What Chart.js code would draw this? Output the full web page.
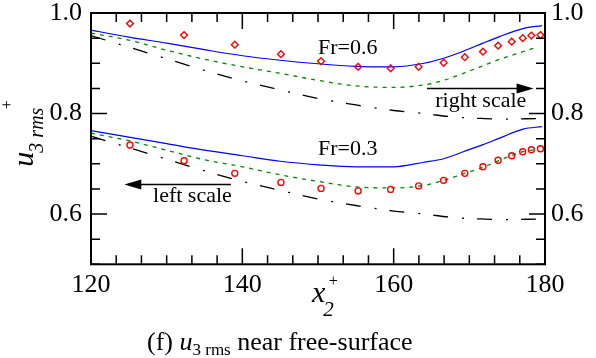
<!DOCTYPE html>
<html>
<head>
<meta charset="utf-8">
<script src="https://cdn.jsdelivr.net/npm/chart.js@4.4.1/dist/chart.umd.min.js"></script>
<style>
  html, body { margin: 0; padding: 0; background: #fff; }
  #wrap { width: 596px; height: 358px; }
</style>
</head>
<body>
<div id="wrap"><canvas id="chart" width="596" height="358"></canvas></div>
<script>
// axis ticks
const xTicks = [120, 140, 160, 180];
const yTicks = [0.6, 0.8, 1];
const xMinorStep = 20 / 6;
const yMinorStep = 0.05;

// DNS symbols (diamonds: Fr=0.6, circles: Fr=0.3)
const dnsX = [125.15, 132.3, 139.0, 145.1, 150.4, 155.3, 159.6, 163.3, 166.6, 169.4, 171.8, 173.8, 175.6, 177.05, 178.2, 179.4];
const dns06 = [0.979, 0.956, 0.937, 0.918, 0.904, 0.893, 0.890, 0.893, 0.901, 0.912, 0.923, 0.935, 0.943, 0.950, 0.955, 0.956];
const dns03 = [0.7375, 0.706, 0.681, 0.663, 0.651, 0.646, 0.649, 0.656, 0.667, 0.681, 0.694, 0.707, 0.716, 0.724, 0.728, 0.730];

// solid blue model
const blueX = [120, 125, 130, 135, 140, 145, 150, 155, 160, 164, 166.6, 169.2, 171.8, 174, 177.1, 179.6];
const blue06 = [0.966, 0.952, 0.940, 0.927, 0.915, 0.906, 0.899, 0.894, 0.893, 0.900, 0.910, 0.924, 0.940, 0.953, 0.969, 0.975];
const blue03 = [0.766, 0.753, 0.740, 0.727, 0.716, 0.705, 0.698, 0.694, 0.694, 0.703, 0.710, 0.724, 0.738, 0.751, 0.769, 0.774];

// dashed green model
const greenX = [120, 125, 130, 135, 140, 145, 150, 155, 160, 164, 166.6, 169.2, 171.8, 174, 177.1, 178.7];
const green06 = [0.960, 0.946, 0.926, 0.908, 0.893, 0.880, 0.866, 0.855, 0.852, 0.857, 0.866, 0.880, 0.895, 0.908, 0.923, 0.931];
const green03 = [0.761, 0.746, 0.727, 0.708, 0.694, 0.678, 0.665, 0.654, 0.652, 0.657, 0.667, 0.680, 0.693, 0.707, 0.724, 0.728];

// dash-dot black model
const blackX = [120, 125, 130, 135, 140, 145, 150, 155, 160, 164, 168, 172, 175, 178.8];
const black06 = [0.955, 0.932, 0.909, 0.886, 0.865, 0.847, 0.830, 0.817, 0.806, 0.800, 0.793, 0.790, 0.789, 0.790];
const black03 = [0.755, 0.732, 0.709, 0.686, 0.665, 0.647, 0.630, 0.617, 0.606, 0.600, 0.593, 0.590, 0.589, 0.590];

const notes = [
  { text: 'Fr=0.6', x: 150.0, y: 0.918 },
  { text: 'Fr=0.3', x: 150.0, y: 0.7175 },
  { text: 'right scale', x: 165.5, y: 0.813 },
  { text: 'left scale', x: 128.2, y: 0.6234 }
];
const arrows = [
  { x0: 164.4, x1: 178.5, y: 0.850 },
  { x0: 138.5, x1: 124.4, y: 0.659 }
];

const SERIF = '"Liberation Serif", "Times New Roman", serif';
const pts = (xs, ys) => xs.map((v, i) => ({ x: v, y: ys[i] }));

function line(xs, ys, color, dash) {
    return {
        data: pts(xs, ys), borderColor: color, borderWidth: dash.length ? 1.3 : 1.2,
        borderDash: dash, pointRadius: 0, fill: false, showLine: true,
        cubicInterpolationMode: 'monotone', order: 2
    };
}
function marks(ys, style) {
    return {
        data: pts(dnsX, ys), showLine: false, pointStyle: style,
        pointRadius: style === 'circle' ? 3 : 3.4, borderColor: '#ff0000', borderWidth: 1.4,
        backgroundColor: 'rgba(0,0,0,0)', order: 0
    };
}

const decor = {
    id: 'decor',
    afterDraw(chart) {
        const { ctx, chartArea: a, scales: { x, y } } = chart;
        ctx.save();
        ctx.strokeStyle = '#000';
        ctx.fillStyle = '#000';
        ctx.lineWidth = 2;
        ctx.strokeRect(a.left, a.top, a.right - a.left, a.bottom - a.top);

        // inward ticks on all four sides
        ctx.lineWidth = 1.5;
        ctx.beginPath();
        for (let v = x.min; v <= x.max + 1e-6; v += xMinorStep) {
            const px = x.getPixelForValue(v);
            const len = xTicks.some(t => Math.abs(t - v) < 1e-6) ? 16 : 9;
            ctx.moveTo(px, a.bottom); ctx.lineTo(px, a.bottom - len);
            ctx.moveTo(px, a.top); ctx.lineTo(px, a.top + len);
        }
        for (let v = y.min; v <= y.max + 1e-6; v += yMinorStep) {
            const py = y.getPixelForValue(v);
            const len = yTicks.some(t => Math.abs(t - v) < 1e-6) ? 16 : 9;
            ctx.moveTo(a.left, py); ctx.lineTo(a.left + len, py);
            ctx.moveTo(a.right, py); ctx.lineTo(a.right - len, py);
        }
        ctx.stroke();

        // annotations
        ctx.font = '22px ' + SERIF;
        ctx.textBaseline = 'alphabetic';
        ctx.textAlign = 'left';
        notes.forEach(n => ctx.fillText(n.text, x.getPixelForValue(n.x), y.getPixelForValue(n.y)));
        arrows.forEach(ar => {
            const p0 = x.getPixelForValue(ar.x0), p1 = x.getPixelForValue(ar.x1);
            const py = y.getPixelForValue(ar.y);
            const dir = Math.sign(p1 - p0);
            ctx.lineWidth = 1.5;
            ctx.beginPath();
            ctx.moveTo(p0, py); ctx.lineTo(p1 - dir * 10, py);
            ctx.stroke();
            ctx.beginPath();
            ctx.moveTo(p1, py);
            ctx.lineTo(p1 - dir * 17, py - 5);
            ctx.lineTo(p1 - dir * 17, py + 5);
            ctx.closePath();
            ctx.fill();
        });

        // y title: u_{3 rms}^+
        const ym = (a.top + a.bottom) / 2;
        ctx.save();
        ctx.translate(a.left - 58, ym + 28);
        ctx.rotate(-Math.PI / 2);
        ctx.font = 'italic 30px ' + SERIF;
        ctx.fillText('u', 0, 0);
        const uw = ctx.measureText('u').width;
        ctx.font = 'italic 20px ' + SERIF;
        ctx.fillText('3 rms', uw - 1, 10);
        const sw = ctx.measureText('3 rms').width;
        ctx.font = '16px ' + SERIF;
        ctx.textAlign = 'center';
        ctx.textBaseline = 'middle';
        ctx.fillText('+', uw + sw + 2, -25);
        ctx.restore();

        // x title: x_2^+
        const xm = (a.left + a.right) / 2;
        ctx.textAlign = 'left';
        ctx.textBaseline = 'alphabetic';
        ctx.font = 'italic 30px ' + SERIF;
        ctx.fillText('x', xm - 6, a.bottom + 38);
        const xw = ctx.measureText('x').width;
        ctx.font = 'italic 21px ' + SERIF;
        ctx.fillText('2', xm - 6 + xw - 2, a.bottom + 52);
        ctx.font = '16px ' + SERIF;
        ctx.textAlign = 'center';
        ctx.textBaseline = 'middle';
        ctx.fillText('+', xm - 6 + xw + 8, a.bottom + 17);

        // caption
        ctx.textAlign = 'left';
        ctx.textBaseline = 'alphabetic';
        const base = 350;
        let cx = 147;
        ctx.font = '26px ' + SERIF;
        ctx.fillText('(f) ', cx, base); cx += ctx.measureText('(f) ').width;
        ctx.font = 'italic 26px ' + SERIF;
        ctx.fillText('u', cx, base); cx += ctx.measureText('u').width;
        ctx.font = '17px ' + SERIF;
        ctx.fillText('3 rms', cx, base + 5); cx += ctx.measureText('3 rms').width;
        ctx.font = '26px ' + SERIF;
        ctx.fillText(' near free-surface', cx, base);
        ctx.restore();
    }
};

const tickFont = { family: SERIF, size: 26 };
const yAxis = (pos, w, pad) => ({
    type: 'linear', position: pos, min: 0.5, max: 1,
    afterBuildTicks: s => { s.ticks = yTicks.map(v => ({ value: v })); },
    afterFit: s => { s.width = w; s.paddingTop = 0; s.paddingBottom = 0; },
    grid: { display: false, drawTicks: false },
    border: { display: false },
    ticks: { font: tickFont, color: '#000', padding: pad }
});

new Chart(document.getElementById('chart'), {
    type: 'scatter',
    data: {
        datasets: [
            marks(dns06, 'rectRot'),
            marks(dns03, 'circle'),
            line(blueX, blue06, '#0000ff', []),
            line(greenX, green06, '#008800', [4, 5]),
            line(blackX, black06, '#000000', [15, 14, 2, 13]),
            line(blueX, blue03, '#0000ff', []),
            line(greenX, green03, '#008800', [4, 5]),
            line(blackX, black03, '#000000', [15, 14, 2, 13])
        ]
    },
    options: {
        responsive: false,
        animation: false,
        layout: { padding: { top: 13, left: 0, right: 0, bottom: 0 } },
        plugins: { legend: { display: false }, tooltip: { enabled: false } },
        scales: {
            x: {
                type: 'linear', min: 120, max: 180,
                afterBuildTicks: s => { s.ticks = xTicks.map(v => ({ value: v })); },
                afterFit: s => { s.height = 358 - 264.3; s.paddingLeft = 0; s.paddingRight = 0; },
                grid: { display: false, drawTicks: false },
                border: { display: false },
                ticks: { font: tickFont, color: '#000', padding: 5, maxRotation: 0, autoSkip: false }
            },
            y: yAxis('left', 91, 9),
            y2: yAxis('right', 51, 6)
        }
    },
    plugins: [decor]
});
</script>
</body>
</html>
